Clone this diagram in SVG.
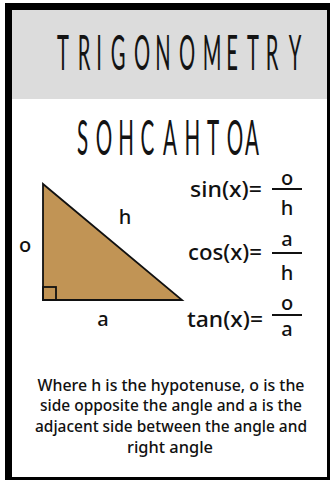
<svg xmlns="http://www.w3.org/2000/svg" width="330" height="480" viewBox="0 0 330 480">
<style>
.title{font-family:"Lato","Liberation Sans Narrow",sans-serif;font-weight:400;fill:#111;text-anchor:middle;}
.hand{font-family:"Noto Sans","DejaVu Sans",sans-serif;font-weight:500;fill:#111;}
.lbl{font-family:"Noto Sans","DejaVu Sans",sans-serif;font-weight:500;fill:#111;font-size:20px;text-anchor:middle;}
.body{font-family:"Noto Sans","DejaVu Sans",sans-serif;font-weight:500;fill:#111;font-size:16px;text-anchor:middle;}
.bar{stroke:#111;stroke-width:2;}
</style>
<rect x="0" y="0" width="330" height="480" fill="#ffffff"/>
<g id="frame">
<rect x="5" y="3" width="325" height="477" fill="#000"/>
<rect x="12" y="10" width="315" height="89" fill="#dcdcdc"/>
<rect x="12" y="99" width="315" height="378" fill="#ffffff"/>
</g>
<g id="title" opacity="0.99">
<text class="title" transform="translate(0,70) scale(0.42,1)" x="150 200 235.7 281 338.1 388.1 445.2 504.8 552.4 602.4 647.6 702.4" y="0" font-size="48">TRIGONOMETRY</text>
</g>
<g id="mnemonic" opacity="0.99">
<text class="title" transform="translate(0,155) scale(0.42,1)" x="196.4 247.6 300 351.2 404.8 458.3 507.1 559.5 600" y="0" font-size="49">SOHCAHTOA</text>
</g>
<g id="triangle">
<polygon points="43,184 43,300 182,300" fill="#c19455" stroke="#111" stroke-width="1.8" stroke-linejoin="miter"/>
<rect x="43" y="287" width="13" height="13" fill="none" stroke="#111" stroke-width="1.8"/>
<text class="lbl" x="25" y="252">o</text>
<text class="lbl" x="125" y="224">h</text>
<text class="lbl" x="103" y="326">a</text>
</g>
<g id="sin">
<text class="hand" x="190" y="197" font-size="22" textLength="72" lengthAdjust="spacingAndGlyphs">sin(x)=</text>
<line class="bar" x1="272" y1="189" x2="302" y2="189"/>
<text class="lbl" x="287" y="185">o</text>
<text class="lbl" x="287" y="215">h</text>
</g>
<g id="cos">
<text class="hand" x="188" y="260" font-size="22" textLength="74" lengthAdjust="spacingAndGlyphs">cos(x)=</text>
<line class="bar" x1="272" y1="253" x2="302" y2="253"/>
<text class="lbl" x="287" y="246">a</text>
<text class="lbl" x="287" y="280">h</text>
</g>
<g id="tan">
<text class="hand" x="187" y="327" font-size="22" textLength="76" lengthAdjust="spacingAndGlyphs">tan(x)=</text>
<line class="bar" x1="272" y1="315" x2="302" y2="315"/>
<text class="lbl" x="287" y="310">o</text>
<text class="lbl" x="287" y="336">a</text>
</g>
<g id="description">
<text class="body" x="171" y="391" textLength="267" lengthAdjust="spacingAndGlyphs">Where h is the hypotenuse, o is the</text>
<text class="body" x="171" y="411" textLength="262" lengthAdjust="spacingAndGlyphs">side opposite the angle and a is the</text>
<text class="body" x="171" y="432" textLength="272" lengthAdjust="spacingAndGlyphs">adjacent side between the angle and</text>
<text class="body" x="170" y="453" textLength="86" lengthAdjust="spacingAndGlyphs">right angle</text>
</g>
</svg>
